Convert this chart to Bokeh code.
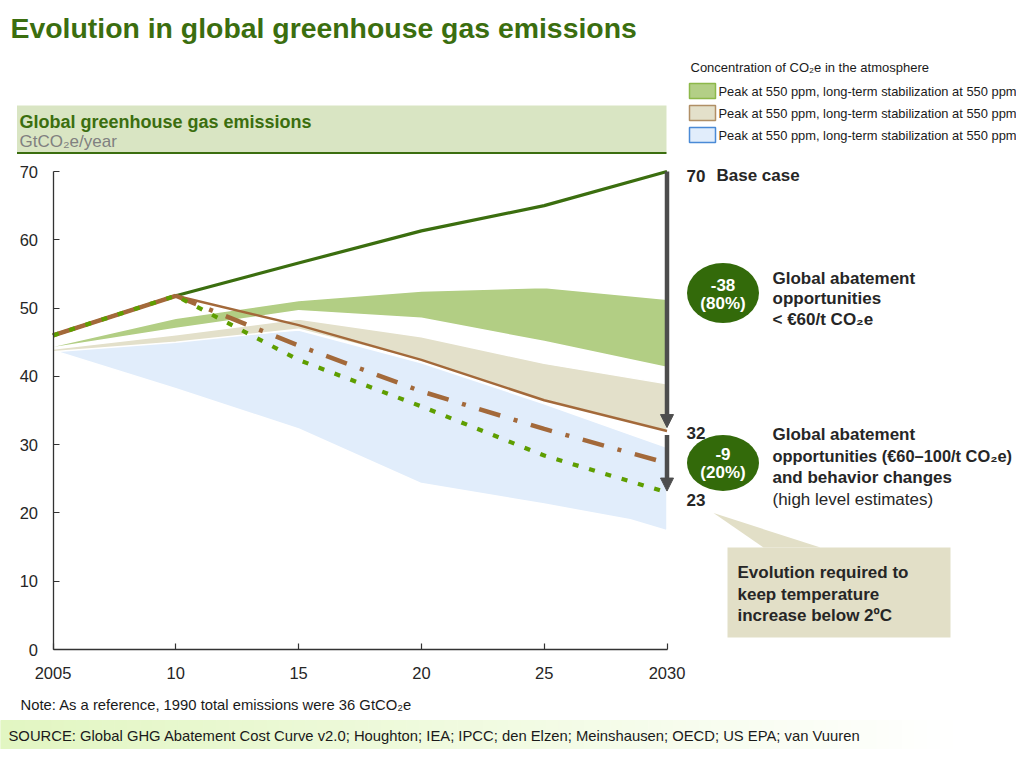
import numpy as np
from bokeh.plotting import figure
from bokeh.models import Range1d, LinearAxis, FixedTicker, Arrow, NormalHead
from bokeh.core.properties import value
from bokeh.embed import file_html
from bokeh.resources import INLINE

# ---------------- data ----------------
years = [2005, 2010, 2015, 2020, 2025, 2030]
base_case = [46.0, 51.8, 56.6, 61.3, 65.0, 70.0]
path_550 = [46.0, 51.8, 47.5, 42.4, 36.5, 32.0]          # brown solid
abate_years = [2010, 2015, 2020, 2025, 2030]
path_abate = [51.8, 44.5, 37.8, 32.3, 27.3]              # brown dash-dot
path_2c = [46.0, 51.8, 42.4, 35.6, 28.4, 23.0]           # green dotted
hist_years = [2005, 2010]
hist_values = [46.0, 51.8]

green_hi = [44.4, 48.5, 51.1, 52.5, 53.0, 51.3]
green_lo = [44.2, 47.0, 49.6, 48.5, 45.1, 41.3]
beige_hi = [44.0, 46.1, 48.4, 45.8, 41.9, 38.9]
beige_lo = [43.6, 45.0, 46.9, 42.3, 36.5, 32.0]
blue_years = [2005, 2010, 2015, 2020, 2025, 2028.5, 2030]
blue_hi = [44.0, 45.3, 46.8, 42.0, 36.0, 31.5, 29.6]
blue_lo = [43.8, 38.2, 32.3, 24.3, 21.3, 19.0, 17.4]

x_ticks = [2005, 2010, 2015, 2020, 2025, 2030]
x_tick_labels = ["2005", "10", "15", "20", "25", "2030"]
y_ticks = [0, 10, 20, 30, 40, 50, 60, 70]

legend_title = "Concentration of CO\u2082e in the atmosphere"
legend_labels = ["Peak at 550 ppm, long-term stabilization at 550 ppm"] * 3
legend_fills = ["#B3CF86", "#E3E0CA", "#E1EDFB"]
legend_lines = ["#8DB84A", "#B08F66", "#4A8AD6"]

# ---------------- layout ----------------
FONT = "Liberation Sans"
W, H = 1016, 749
X2005_PX, X2030_PX = 52.5, 666.5
Y0_PX, Y70_PX = 649.0, 171.0
sx = (X2030_PX - X2005_PX) / 25.0
sy = (Y0_PX - Y70_PX) / 70.0
x_start = 2005 - X2005_PX / sx
x_end = x_start + W / sx
y_end = 70 + Y70_PX / sy
y_start = 0 - (H - Y0_PX) / sy

p = figure(width=W, height=H, x_range=Range1d(x_start, x_end), y_range=Range1d(y_start, y_end),
           x_axis_type=None, y_axis_type=None, toolbar_location=None, output_backend="svg",
           min_border=0, outline_line_color=None, background_fill_color="white",
           border_fill_color="white")
p.extra_x_ranges = {"px": Range1d(0, W)}
p.extra_y_ranges = {"px": Range1d(H, 0)}
PX = dict(x_range_name="px", y_range_name="px")


def txt(x, y, s, size, color="#262626", bold=False, align="left"):
    p.text(x=[x], y=[y], text=[s], text_font=value(FONT), text_font_size=value(f"{size}px"),
           text_font_style="bold" if bold else "normal", text_color=color,
           text_align=align, text_baseline="middle", **PX)


# ---- source band (gradient) ----
n = 80
edges = np.linspace(0, W, n + 1)
c0 = np.array([226, 246, 194])
cols = []
for i in range(n):
    t = min(1.0, edges[i] / 950.0)
    c = c0 + (np.array([255, 255, 255]) - c0) * t
    cols.append("#%02x%02x%02x" % tuple(int(round(v)) for v in c))
p.quad(left=edges[:-1], right=edges[1:], top=720, bottom=H, fill_color=cols,
       line_color=cols, line_width=1, **PX)
txt(8, 735.5, "SOURCE: Global GHG Abatement Cost Curve v2.0; Houghton; IEA; IPCC; den Elzen; "
    "Meinshausen; OECD; US EPA; van Vuuren", 14.8, "#1a1a1a")
txt(20, 704, "Note: As a reference, 1990 total emissions were 36 GtCO\u2082e", 14.8, "#1a1a1a")

# ---- title ----
txt(10, 27, "Evolution in global greenhouse gas emissions", 28.4, "#3B6E0F", bold=True)

# ---- header band ----
p.quad(left=16.5, right=666, top=105, bottom=152, fill_color="#D9E5C3", line_color=None, **PX)
p.segment(x0=[16.5], y0=[152.5], x1=[666], y1=[152.5], line_color="#3B6E0F", line_width=2, **PX)
txt(19, 121, "Global greenhouse gas emissions", 18, "#3B6E0F", bold=True)
txt(19, 141, "GtCO\u2082e/year", 17, "#808080")

# ---- legend ----
txt(690, 67, legend_title, 13, "#1a1a1a")
for i, (lab, fc, lc) in enumerate(zip(legend_labels, legend_fills, legend_lines)):
    yc = 90.5 + 22 * i
    p.quad(left=689, right=715, top=yc - 7.5, bottom=yc + 7.5, fill_color=fc, line_color=lc,
           line_width=1.5, **PX)
    txt(718, yc, lab, 12.9, "#1a1a1a")

# ---- bands ----
p.patch(blue_years + blue_years[::-1], blue_hi + blue_lo[::-1], fill_color="#E1EDFB",
        line_color="white", line_width=1.5)
p.patch(years + years[::-1], beige_hi + beige_lo[::-1], fill_color="#E3E0CA",
        line_color="white", line_width=1.5)
p.patch(years + years[::-1], green_hi + green_lo[::-1], fill_color="#B2CE84",
        line_color="white", line_width=1.5)

# ---- lines ----
p.line(years, base_case, line_color="#3B6E0F", line_width=3.2)
p.line(years, path_550, line_color="#A3693A", line_width=2.4)
p.line(abate_years, path_abate, line_color="#A3693A", line_width=4.5, line_dash="22 14 4 14")
p.line(hist_years, hist_values, line_color="#A3693A", line_width=4.5)
p.line(years, path_2c, line_color="#5E9E00", line_width=4.2, line_dash="6 11")

# ---- axes ----
xaxis = LinearAxis(fixed_location=0, bounds=(2005, 2030), ticker=FixedTicker(ticks=x_ticks),
                   major_label_overrides={t: l for t, l in zip(x_ticks, x_tick_labels)})
yaxis = LinearAxis(fixed_location=2005, bounds=(0, 70), ticker=FixedTicker(ticks=y_ticks))
for ax in (xaxis, yaxis):
    ax.axis_line_color = "#333333"
    ax.axis_line_width = 1.3
    ax.major_tick_line_color = "#333333"
    ax.major_tick_line_width = 1.2
    ax.major_tick_in = 6
    ax.major_tick_out = 0
    ax.minor_tick_line_color = None
    ax.major_label_text_font = FONT
    ax.major_label_text_font_size = "16.5px"
    ax.major_label_text_color = "#262626"
xaxis.major_label_standoff = 17
yaxis.major_label_standoff = 15
p.add_layout(xaxis, "below")
p.add_layout(yaxis, "left")

# ---- arrows ----
ARROW = "#4D4D4D"
p.add_layout(Arrow(end=NormalHead(size=13, fill_color=ARROW, line_color=ARROW),
                   x_start=years[-1], y_start=base_case[-1], x_end=years[-1], y_end=path_550[-1] + 0.5,
                   line_color=ARROW, line_width=4.5))
p.add_layout(Arrow(end=NormalHead(size=13, fill_color=ARROW, line_color=ARROW),
                   x_start=years[-1], y_start=path_550[-1] - 0.6, x_end=years[-1], y_end=path_2c[-1] + 0.2,
                   line_color=ARROW, line_width=4.5))

# ---- right annotations ----
DARK = "#262626"
txt(686, 175, f"{base_case[-1]:.0f}", 17, DARK, bold=True)
txt(716, 175, "Base case", 17, DARK, bold=True)
txt(686, 432, f"{path_550[-1]:.0f}", 17, DARK, bold=True)
txt(686, 499, f"{path_2c[-1]:.0f}", 17, DARK, bold=True)

p.ellipse(x=[722.5, 722.5], y=[292.5, 462.5], width=72, height=[60, 56], width_units="screen",
          height_units="screen", fill_color="#336A0A", line_color=None, **PX)
txt(722.5, 284, "-38", 17, "white", bold=True, align="center")
txt(722.5, 302.5, "(80%)", 17, "white", bold=True, align="center")
txt(722.5, 453.5, "-9", 17, "white", bold=True, align="center")
txt(722.5, 472, "(20%)", 17, "white", bold=True, align="center")

txt(772, 278, "Global abatement", 17, DARK, bold=True)
txt(772, 298, "opportunities", 17, DARK, bold=True)
txt(772, 318.5, "< \u20ac60/t CO\u2082e", 17, DARK, bold=True)

txt(772, 433.5, "Global abatement", 17, DARK, bold=True)
txt(772, 455.5, "opportunities (\u20ac60\u2013100/t CO\u2082e)", 16.4, DARK, bold=True)
txt(772, 477, "and behavior changes", 17, DARK, bold=True)
txt(772, 499, "(high level estimates)", 17, DARK)

# ---- callout ----
CALL = "#E2DFC7"
p.patch([713, 763, 820], [512.5, 547, 547], fill_color=CALL, line_color=None, **PX)
p.quad(left=727, right=950, top=547, bottom=637, fill_color=CALL, line_color=None, **PX)
txt(737, 572, "Evolution required to", 17, DARK, bold=True)
txt(737, 593.5, "keep temperature", 17, DARK, bold=True)
txt(737, 615, "increase below 2\u00baC", 17, DARK, bold=True)

open("out.html", "w").write(file_html(p, INLINE))
